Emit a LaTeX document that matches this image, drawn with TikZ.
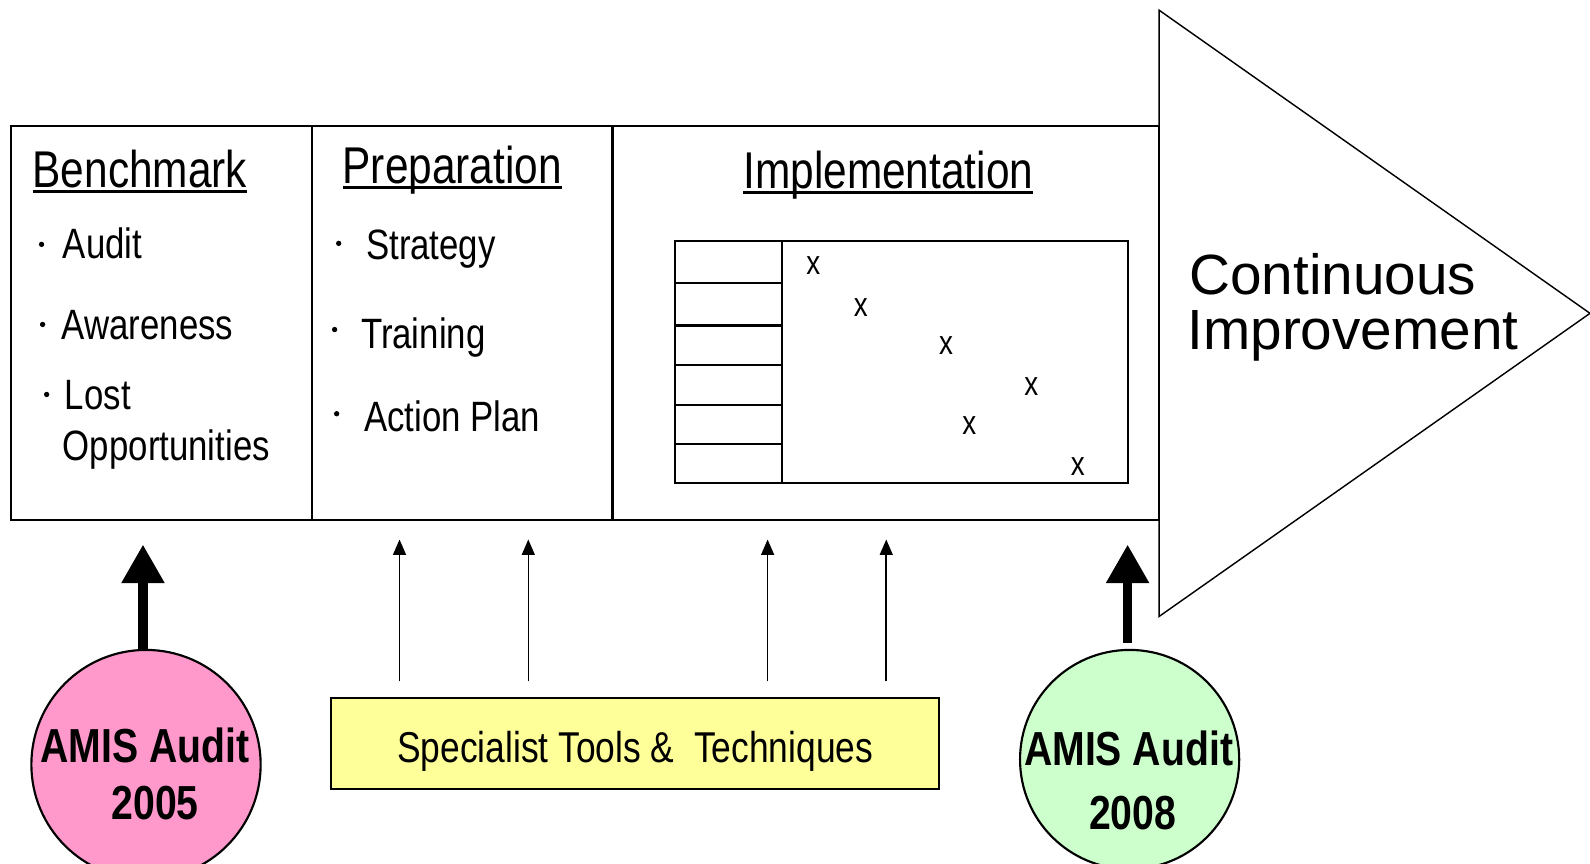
\documentclass[tikz,border=0pt]{standalone}
\usepackage{fontspec}
\setmainfont{Liberation Sans}
\newfontfamily\narrowfont[FakeStretch=0.82]{Liberation Sans}
\usetikzlibrary{arrows.meta,positioning}
\definecolor{auditpink}{HTML}{FF99CC}
\definecolor{auditgreen}{HTML}{CCFFCC}
\definecolor{toolyellow}{HTML}{FFFF99}
\newcommand\headline[1]{\setbox0=\hbox{#1}\rlap{\rule[-1.6pt]{\wd0}{0.9pt}}\box0}

\begin{document}
\begin{tikzpicture}[x=0.01cm, y=-0.01cm, semithick,
    every node/.style={inner sep=0pt},
    heading/.style={font=\narrowfont\fontsize{14.5}{17}\selectfont, anchor=base},
    item/.style={font=\narrowfont\fontsize{11.9}{14}\selectfont, anchor=base west},
    cross/.style={font=\narrowfont\fontsize{9.5}{11}\selectfont},
    audit/.style={draw, circle, line width=0.6pt},
    audittext/.style={font=\narrowfont\bfseries\fontsize{13.4}{16}\selectfont, anchor=base},
    fat/.style={line width=2.6pt, -{Triangle[width=11.4pt,length=10.8pt]}},
    toolarrow/.style={line width=0.45pt, -{Triangle[width=3.6pt,length=4.3pt]}}]
    \useasboundingbox (0,0) rectangle (1568,852);
    % phases
    \draw (11,124) rectangle (1143,513);
    \draw (308,124) -- (308,513);
    \draw (604,124) -- (604,513);
    \draw[line width=0.4pt, fill=white] (1143,10) -- (1568,309) -- (1143,608) -- cycle;
    \node[heading] (bench) at (138,185) {\headline{Benchmark}};
    \node[heading] (prep) at (446,181) {\headline{Preparation}};
    \node[heading] (impl) at (876,186) {\headline{Implementation}};
    \node[item] (audit) at (61,255) {Audit};
    \node[item] (aware) at (60,335) {Awareness};
    \node[item] (lost) at (63,404) {Lost};
    \node[item] (opp) at (61,454) {Opportunities};
    \node[item] (strat) at (360,256) {Strategy};
    \node[item] (train) at (355,344) {Training};
    \node[item] (plan) at (358,426) {Action Plan};
    \foreach \x/\y in {41/241, 42/320, 46/389, 334/240, 330/325, 332/408}
        \fill (\x,\y) circle[radius=0.75pt];
    % chart
    \draw (666,238) rectangle (1112,476);
    \draw (771,238) -- (771,476);
    \foreach \y in {279,321,360,399,438}
        \draw (666,\y) -- (771,\y);
    \foreach \x/\y [count=\i] in {802/262, 849/303, 933/341, 1017/381, 956/420, 1063/460}
        \node[cross] (x\i) at (\x,\y) {x};
    \node[anchor=base west, font=\fontsize{15.9}{18}\selectfont] (cont) at (1172,290) {Continuous};
    \node[anchor=base west, font=\fontsize{15.9}{18}\selectfont] (impr) at (1170,345) {Improvement};
    % audits and tools
    \node[audit, fill=auditpink, minimum size=2.26cm] (c05) at (144,754) {};
    \node[audittext] (a05) at (143,752) {AMIS Audit};
    \node[audittext] (y05) at (153,808) {2005};
    \node[audit, fill=auditgreen, minimum size=2.16cm] (c08) at (1114,749) {};
    \node[audittext] (a08) at (1113,755) {AMIS Audit};
    \node[audittext] (y08) at (1117,818) {2008};
    \node[draw, fill=toolyellow, line width=0.6pt, minimum width=5.99cm, minimum height=0.9cm,
        text height=11pt, text depth=0.2pt,
        font=\narrowfont\fontsize{12.1}{14}\selectfont] (tools) at (626.5,733) {Specialist Tools \&\ \ Techniques};
    \coordinate (benchtip) at (141,537);
    \coordinate (impltip) at (1112,537);
    \draw[fat] (c05.north -| benchtip) -- (benchtip);
    \draw[fat, shorten <=0.06cm] (c08.north -| impltip) -- (impltip);
    \foreach \x [count=\i] in {394,521,757,874} {
        \coordinate (t\i) at (\x,532);
        \draw[toolarrow, shorten <=0.15cm] (tools.north -| t\i) -- (t\i);
    }
\end{tikzpicture}
\end{document}
